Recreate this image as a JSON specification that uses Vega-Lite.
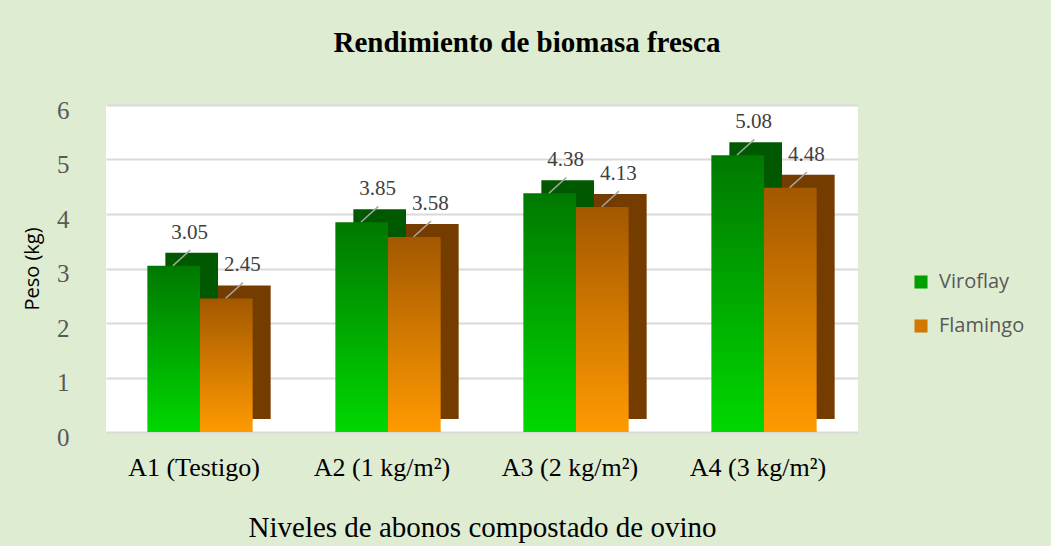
{
  "$schema": "https://vega.github.io/schema/vega-lite/v6.json",
  "autosize": "none",
  "width": 752,
  "height": 327,
  "padding": {"left": 106, "top": 105, "right": 193, "bottom": 114},
  "background": "#deecd2",
  "config": {
    "view": {"stroke": null, "fill": "#ffffff"},
    "font": "Liberation Serif"
  },
  "title": {
    "text": "Rendimiento de biomasa fresca",
    "font": "Liberation Serif",
    "fontSize": 29,
    "fontWeight": "bold",
    "color": "#000000",
    "anchor": "middle",
    "dx": 45,
    "offset": 40
  },
  "resolve": {"scale": {"xOffset": "independent", "color": "independent"}},
  "data": {
    "values": [
      {"Nivel": "A1 (Testigo)", "Variedad": "Viroflay", "Peso": 3.05},
      {"Nivel": "A1 (Testigo)", "Variedad": "Flamingo", "Peso": 2.45},
      {"Nivel": "A2 (1 kg/m²)", "Variedad": "Viroflay", "Peso": 3.85},
      {"Nivel": "A2 (1 kg/m²)", "Variedad": "Flamingo", "Peso": 3.58},
      {"Nivel": "A3 (2 kg/m²)", "Variedad": "Viroflay", "Peso": 4.38},
      {"Nivel": "A3 (2 kg/m²)", "Variedad": "Flamingo", "Peso": 4.13},
      {"Nivel": "A4 (3 kg/m²)", "Variedad": "Viroflay", "Peso": 5.08},
      {"Nivel": "A4 (3 kg/m²)", "Variedad": "Flamingo", "Peso": 4.48}
    ]
  },
  "encoding": {
    "x": {
      "field": "Nivel",
      "type": "nominal",
      "sort": null,
      "scale": {"paddingInner": 0.44, "paddingOuter": 0.22},
      "axis": {
        "title": "Niveles de abonos compostado de ovino",
        "titleFont": "Liberation Serif",
        "titleFontSize": 29,
        "titleFontWeight": "normal",
        "titleColor": "#000000",
        "titlePadding": 33,
        "labelFont": "Liberation Serif",
        "labelFontSize": 26,
        "labelColor": "#000000",
        "labelAngle": 0,
        "labelPadding": 22,
        "labelOffset": -6,
        "ticks": false,
        "domain": false
      }
    },
    "xOffset": {"field": "Variedad", "type": "nominal", "scale": {"domain": ["Viroflay", "Flamingo"]}},
    "y": {
      "field": "Peso",
      "type": "quantitative",
      "scale": {"domain": [0, 6]},
      "axis": {
        "title": "Peso (kg)",
        "titleFont": "Open Sans",
        "titleFontSize": 20,
        "titleFontWeight": "normal",
        "titleColor": "#000000",
        "titlePadding": 14,
        "labelFont": "Liberation Serif",
        "labelFontSize": 25,
        "labelColor": "#595959",
        "labelPadding": 37,
        "labelOffset": 5,
        "labelOverlap": false,
        "values": [0, 1, 2, 3, 4, 5, 6],
        "ticks": false,
        "domain": false,
        "gridColor": "#d9d9d9",
        "gridWidth": 2
      }
    }
  },
  "layer": [
    {
      "transform": [{"filter": "datum.Variedad === 'Viroflay'"}],
      "mark": {"type": "bar", "yOffset": -13, "color": "#005800"},
      "encoding": {
        "xOffset": {"field": "Variedad", "type": "nominal", "scale": {"domain": ["Viroflay", "Flamingo"], "range": [18, 123.3]}}
      }
    },
    {
      "transform": [{"filter": "datum.Variedad === 'Flamingo'"}],
      "mark": {"type": "bar", "yOffset": -13, "color": "#753c00"},
      "encoding": {
        "xOffset": {"field": "Variedad", "type": "nominal", "scale": {"domain": ["Viroflay", "Flamingo"], "range": [18, 123.3]}}
      }
    },
    {
      "transform": [{"filter": "datum.Variedad === 'Viroflay'"}],
      "mark": {
        "type": "bar",
        "color": {
          "gradient": "linear", "x1": 0, "y1": 0, "x2": 0, "y2": 1,
          "stops": [{"offset": 0, "color": "#007800"}, {"offset": 1, "color": "#00d800"}]
        }
      }
    },
    {
      "transform": [{"filter": "datum.Variedad === 'Flamingo'"}],
      "mark": {
        "type": "bar",
        "color": {
          "gradient": "linear", "x1": 0, "y1": 0, "x2": 0, "y2": 1,
          "stops": [{"offset": 0, "color": "#a35800"}, {"offset": 1, "color": "#ff9a00"}]
        }
      }
    },
    {
      "mark": {"type": "point", "shape": "M-1,0.9L1,-0.9", "size": 300, "filled": false, "stroke": "#a6a6a6", "strokeWidth": 1.5, "opacity": 1, "yOffset": -8},
      "encoding": {
        "xOffset": {"field": "Variedad", "type": "nominal", "scale": {"domain": ["Viroflay", "Flamingo"], "range": [8, 113.3]}}
      }
    },
    {
      "mark": {"type": "text", "dy": -33, "dx": 16, "font": "Liberation Serif", "fontSize": 21, "color": "#404040"},
      "encoding": {
        "text": {"field": "Peso", "type": "quantitative", "format": ".2f"}
      }
    },
    {
      "mark": {"type": "square", "opacity": 0},
      "encoding": {
        "color": {
          "field": "Variedad",
          "type": "nominal",
          "scale": {"domain": ["Viroflay", "Flamingo"], "range": ["#00a000", "#d07800"]},
          "legend": {
            "title": null,
            "orient": "none",
            "legendX": 805,
            "legendY": 167,
            "symbolType": "square",
            "symbolSize": 170,
            "symbolOpacity": 1,
            "labelFont": "Open Sans",
            "labelFontSize": 20,
            "labelColor": "#595959",
            "rowPadding": 24,
            "labelOffset": 8
          }
        }
      }
    }
  ]
}
